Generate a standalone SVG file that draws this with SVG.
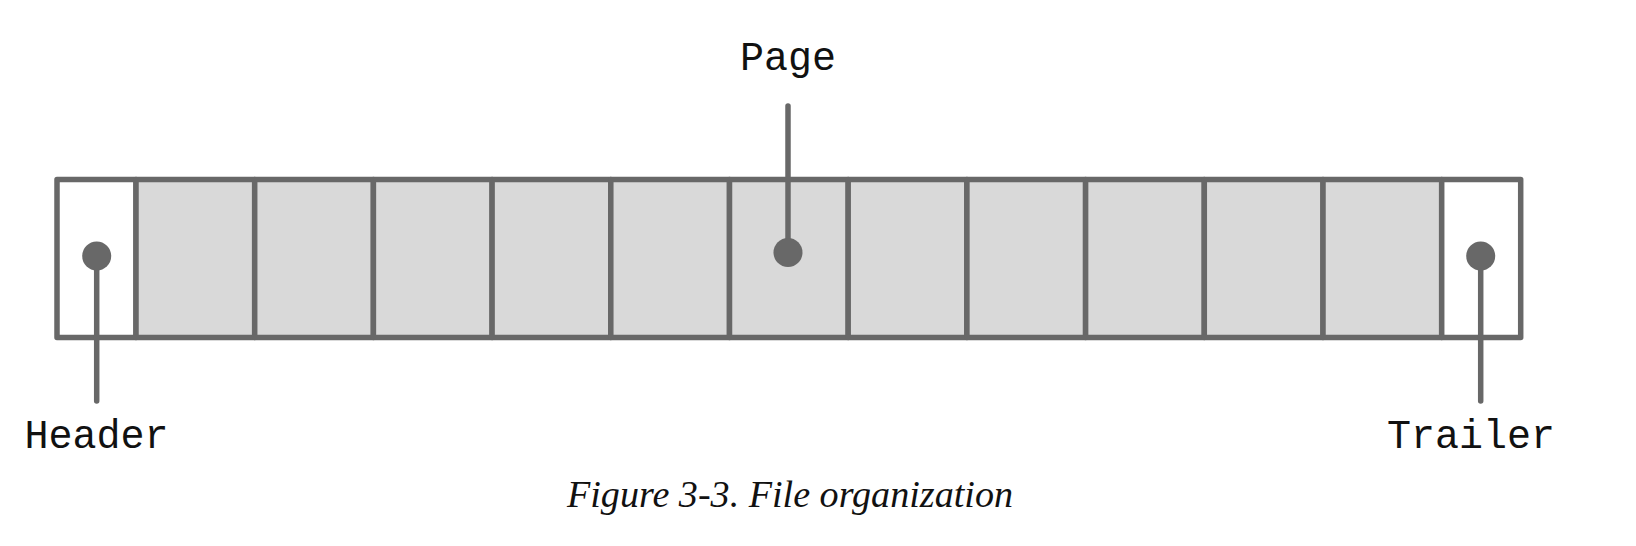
<svg xmlns="http://www.w3.org/2000/svg" width="1636" height="546" viewBox="0 0 1636 546">
<style>
.cell{stroke:#686868;stroke-width:5.5;stroke-linejoin:round}
.page{fill:#d9d9d9}
.end{fill:#ffffff}
.lbl{font-family:"Liberation Mono","DejaVu Sans Mono",monospace;font-size:40px;fill:#111;text-anchor:middle}
.cap{font-family:"Liberation Serif","DejaVu Serif",serif;font-style:italic;font-size:37px;fill:#111;text-anchor:middle}
.lead{stroke:#686868;stroke-width:5.5;stroke-linecap:round;fill:none}
.dot{fill:#686868}
</style>
<rect width="1636" height="546" fill="#ffffff"/>
<g id="header"><rect class="cell end" x="57" y="179.5" width="79" height="158"/></g>
<g id="page1"><rect class="cell page" x="136" y="179.5" width="118.7" height="158"/></g>
<g id="page2"><rect class="cell page" x="254.7" y="179.5" width="118.7" height="158"/></g>
<g id="page3"><rect class="cell page" x="373.4" y="179.5" width="118.7" height="158"/></g>
<g id="page4"><rect class="cell page" x="492.1" y="179.5" width="118.7" height="158"/></g>
<g id="page5"><rect class="cell page" x="610.8" y="179.5" width="118.7" height="158"/></g>
<g id="page6"><rect class="cell page" x="729.5" y="179.5" width="118.7" height="158"/></g>
<g id="page7"><rect class="cell page" x="848.2" y="179.5" width="118.7" height="158"/></g>
<g id="page8"><rect class="cell page" x="966.9" y="179.5" width="118.7" height="158"/></g>
<g id="page9"><rect class="cell page" x="1085.6" y="179.5" width="118.7" height="158"/></g>
<g id="page10"><rect class="cell page" x="1204.3" y="179.5" width="118.7" height="158"/></g>
<g id="page11"><rect class="cell page" x="1323" y="179.5" width="118.7" height="158"/></g>
<g id="trailer"><rect class="cell end" x="1441.7" y="179.5" width="79" height="158"/></g>
<g id="connectors">
<line class="lead" x1="788" y1="106" x2="788" y2="252"/>
<circle class="dot" cx="788" cy="252.5" r="14.5"/>
<line class="lead" x1="96.7" y1="256" x2="96.7" y2="401"/>
<circle class="dot" cx="96.7" cy="256" r="14.5"/>
<line class="lead" x1="1480.7" y1="256" x2="1480.7" y2="401"/>
<circle class="dot" cx="1480.7" cy="256" r="14.5"/>
</g>
<g id="label-page"><text class="lbl" x="788" y="70">Page</text></g>
<g id="label-header"><text class="lbl" x="96.5" y="448">Header</text></g>
<g id="label-trailer"><text class="lbl" x="1471" y="448">Trailer</text></g>
<g id="caption"><text class="cap" x="790" y="507" textLength="446" lengthAdjust="spacingAndGlyphs">Figure 3-3. File organization</text></g>
</svg>
